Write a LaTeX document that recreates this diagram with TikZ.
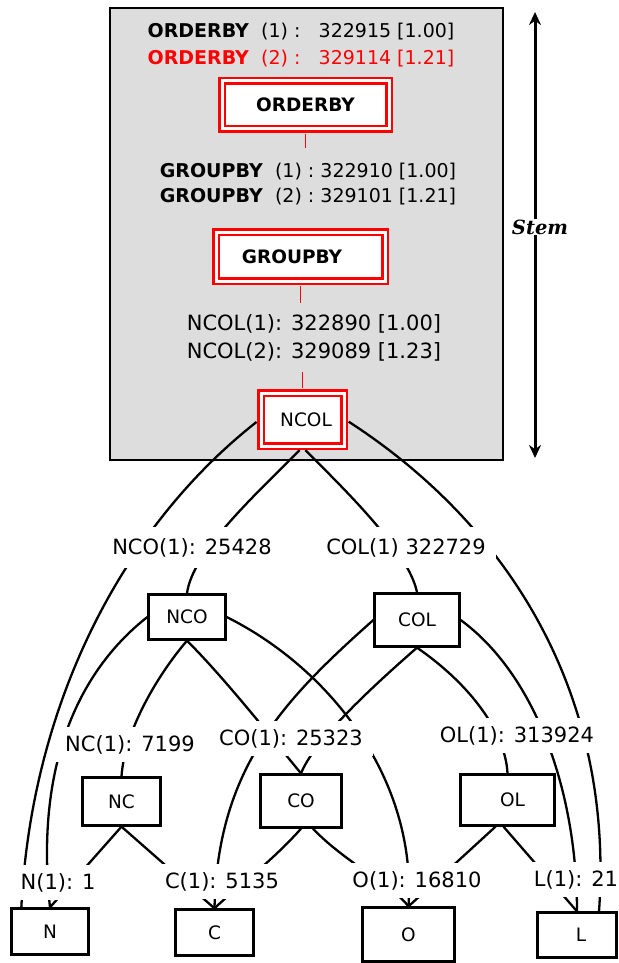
\documentclass[tikz,border=0pt]{standalone}
\usepackage{fontspec}
\setmainfont{DejaVu Sans}
\newfontfamily\stemfont{DejaVu Serif}
\usepackage{tikz}
\usetikzlibrary{arrows.meta}
\definecolor{StemGray}{HTML}{DDDDDD}

\begin{document}
\begin{tikzpicture}[x=1pt, y=-1pt,
    planbox/.style={draw=red, double=white, double distance=3pt, line width=2.6pt,
      fill=white, inner sep=0pt, font=\fontsize{18.5}{22}\selectfont\bfseries},
    relbox/.style={draw, line width=2.3pt, fill=white, inner sep=0pt,
      font=\fontsize{18.5}{22}\selectfont},
    card/.style={fill=white, inner xsep=10pt, inner ysep=8pt, anchor=base,
      font=\fontsize{21}{25}\selectfont},
    lnk/.style={line width=2.3pt},
    planlnk/.style={red, line width=1.5pt}]
  \useasboundingbox (0,0) rectangle (618,963);
  % Stem box
  \filldraw[fill=StemGray, line width=2pt] (110,8) rectangle (503,460);
  \node[align=center, inner sep=0pt, font=\fontsize{19}{27}\selectfont] (obtxt) at (301,45.5)
    {\textbf{ORDERBY}~~(1)~:~~~322915 [1.00]\\
     \textcolor{red}{\textbf{ORDERBY}~~(2)~:~~~329114 [1.21]}};
  \node[planbox, minimum width=167pt, minimum height=48pt] (orderby) at (305.5,105) {ORDERBY};
  \node[align=center, inner xsep=0pt, inner ysep=15pt, font=\fontsize{19}{25}\selectfont] (gbtxt) at (308,184.5)
    {\textbf{GROUPBY}~~(1)~:~322910 [1.00]\\ \textbf{GROUPBY}~~(2)~:~329101 [1.21]};
  \node[planbox, minimum width=169pt, minimum height=49pt] (groupby) at (300.5,256.5) {GROUPBY\hspace*{17pt}};
  \node[align=center, inner xsep=0pt, inner ysep=11pt, font=\fontsize{21}{28}\selectfont] (ncoltxt) at (314,337.5)
    {NCOL(1): 322890 [1.00]\\ NCOL(2): 329089 [1.23]};
  \node[planbox, minimum width=83pt, minimum height=53pt, font=\fontsize{18.5}{22}\selectfont] (ncol) at (302.5,419.5) {\hspace*{7pt}NCOL};
  \draw[planlnk, shorten <=4pt] (orderby.south) -- (orderby.south |- gbtxt.north);
  \draw[planlnk, shorten <=4pt] (groupby.south) -- (groupby.south |- ncoltxt.north);
  \draw[planlnk, shorten >=4pt] (ncol.north |- ncoltxt.south) -- (ncol.north);

  % Stem arrow
  \coordinate (stemtop) at (535,12);
  \coordinate (stembot) at (535,458);
  \draw[line width=3pt, {Stealth[length=13pt,width=12pt]}-{Stealth[length=13pt,width=12pt]}]
    (stemtop) -- node[pos=0.482, xshift=5pt, fill=white, inner sep=1pt,
      font=\fontsize{19.5}{22}\stemfont\bfseries\itshape] (stemlbl) {Stem} (stembot);

  % Lattice boxes
  \node[relbox, minimum width=77pt, minimum height=45pt] (nNCO) at (187,617) {NCO};
  \node[relbox, minimum width=85pt, minimum height=53pt] (nCOL) at (417,620) {COL};
  \node[relbox, minimum width=78pt, minimum height=48pt] (nNC) at (121.5,801.5) {NC};
  \node[relbox, minimum width=81pt, minimum height=53pt] (nCO) at (301,801) {CO};
  \node[relbox, minimum width=94pt, minimum height=51pt] (nOL) at (507.5,800) {\hspace*{10pt}OL};
  \node[relbox, minimum width=77pt, minimum height=46pt] (nN) at (50,931.5) {N};
  \node[relbox, minimum width=78pt, minimum height=46pt] (nC) at (214.5,932.5) {C};
  \node[relbox, minimum width=92pt, minimum height=54pt] (nO) at (408.5,934.5) {O};
  \node[relbox, minimum width=79pt, minimum height=45pt] (nL) at (577,935) {\hspace*{8pt}L};

  % Edges from NCOL
  \draw[lnk, shorten <=4pt] (ncol.west) .. controls +(-140,110) and +(10,-200) .. ([xshift=11pt]nN.north west);
  \draw[lnk, shorten <=4pt] (ncol.south) .. controls +(-50,50) and +(5,-40) .. (nNCO.north);
  \draw[lnk, shorten <=4pt] (ncol.south) .. controls +(45,45) and +(-8,-40) .. (nCOL.north);
  \draw[lnk, shorten <=4pt] (ncol.east) .. controls +(170,110) and +(15,-210) .. ([xshift=22pt]nL.north);
  % Edges from NCO and COL
  \draw[lnk] (nNCO.west) .. controls +(-70,55) and +(-15,-140) .. (nN.north);
  \draw[lnk] (nNCO.east) .. controls +(104,52) and +(8,-127) .. (nO.north);
  \draw[lnk] (nNCO.south) .. controls +(-30,35) and +(3,-45) .. (nNC.north);
  \draw[lnk] (nNCO.south) .. controls +(40,40) and +(-25,-30) .. (nCO.north);
  \draw[lnk] (nCOL.west) .. controls +(-90,80) and +(3,-140) .. (nC.north);
  \draw[lnk] (nCOL.south) .. controls +(-55,48) and +(12,-30) .. (nCO.north);
  \draw[lnk] (nCOL.south) .. controls +(55,38) and +(-2,-40) .. (nOL.north);
  \draw[lnk] (nCOL.east) .. controls +(75,55) and +(0,-120) .. (nL.north);
  % Edges from NC, CO and OL
  \draw[lnk] (nNC.south) -- (nN.north);
  \draw[lnk] (nNC.south) -- (nC.north);
  \draw[lnk] (nCO.south) .. controls +(-30,34) and +(15,-15) .. (nC.north);
  \draw[lnk] ([xshift=12pt]nCO.south) .. controls +(30,32) and +(-15,-20) .. (nO.north);
  \draw[lnk] ([xshift=-12pt]nOL.south) -- (nO.north);
  \draw[lnk] ([xshift=-4pt]nOL.south) -- (nL.north);

  % Counts
  \node[card, inner ysep=11pt] (lNCO) at (192,554) {NCO(1): 25428};
  \node[card, inner ysep=11pt] (lCOL) at (406,554) {COL(1) 322729};
  \node[card] (lNC) at (130,751) {NC(1): 7199};
  \node[card] (lCO) at (291,745) {CO(1): 25323};
  \node[card] (lOL) at (517,742) {OL(1): 313924};
  \node[card] (lN) at (58,889) {N(1): 1};
  \node[card] (lC) at (222,888) {C(1): 5135};
  \node[card] (lO) at (417,887) {O(1): 16810};
  \node[card] (lL) at (576,886) {L(1): 21};
\end{tikzpicture}
\end{document}
